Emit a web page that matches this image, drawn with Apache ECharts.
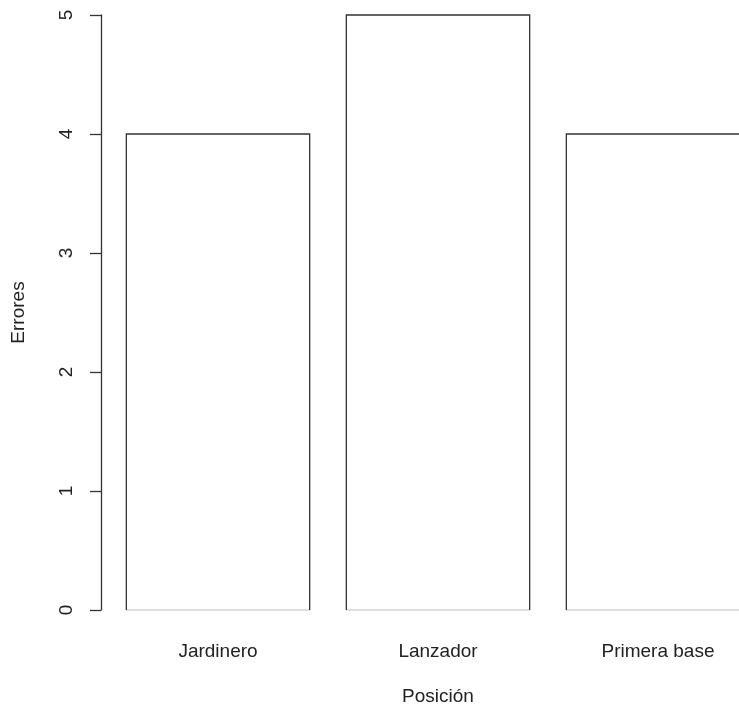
<!DOCTYPE html>
<html>
<head>
<meta charset="utf-8">
<script src="https://cdn.jsdelivr.net/npm/echarts@6/dist/echarts.min.js"></script>
<style>
html,body{margin:0;padding:0;background:#fff;}
#chart{width:739px;height:710px;}
</style>
</head>
<body>
<div id="chart"></div>
<script>
const categories = ['Jardinero', 'Lanzador', 'Primera base'];
const errores = [4, 5, 4];
const yMin = 0, yMax = 5, yStep = 1;

const chart = echarts.init(document.getElementById('chart'));
const font = 'Liberation Sans, Arial, Helvetica, sans-serif';

chart.setOption({
  animation: false,
  backgroundColor: '#ffffff',
  grid: { left: 108, top: 15, bottom: 100, right: -29, containLabel: false, outerBoundsMode: 'none' },
  xAxis: {
    type: 'category',
    data: categories,
    axisLine: { show: false },
    axisTick: { show: false },
    axisLabel: { color: '#222', fontSize: 19, fontFamily: font, margin: 32 },
    name: 'Posición',
    nameLocation: 'middle',
    nameGap: 77,
    nameTextStyle: { color: '#222', fontSize: 19, fontFamily: font }
  },
  yAxis: {
    type: 'value',
    min: yMin, max: yMax, interval: yStep,
    offset: 7,
    splitLine: { show: false },
    axisLine: { show: true, lineStyle: { color: '#333', width: 1.3 } },
    axisTick: { show: true, length: 11, lineStyle: { color: '#333', width: 1.3 } },
    axisLabel: { color: '#222', fontSize: 19, fontFamily: font, rotate: 90, margin: 25 },
    name: 'Errores',
    nameLocation: 'middle',
    nameGap: 73,
    nameTextStyle: { color: '#222', fontSize: 19, fontFamily: font }
  },
  series: [{
    type: 'custom',
    clip: false,
    data: errores.map((v, i) => [i, v]),
    encode: { x: 0, y: 1 },
    renderItem: function (params, api) {
      const idx = api.value(0);
      const top = api.coord([idx, api.value(1)]);
      const base = api.coord([idx, 0]);
      const band = api.size([1, 0])[0];
      const w = band / 1.2;
      const x0 = top[0] - w / 2, x1 = top[0] + w / 2;
      return {
        type: 'group',
        children: [
          { type: 'rect', shape: { x: x0, y: top[1], width: w, height: base[1] - top[1] },
            style: { fill: '#ffffff', stroke: null } },
          { type: 'line', shape: { x1: x0, y1: base[1], x2: x1, y2: base[1] },
            style: { stroke: '#d4d4d4', lineWidth: 1.5 } },
          { type: 'polyline', shape: { points: [[x0, base[1]], [x0, top[1]], [x1, top[1]], [x1, base[1]]] },
            style: { stroke: '#333', lineWidth: 1.3, fill: null } }
        ]
      };
    }
  }]
});
</script>
</body>
</html>
